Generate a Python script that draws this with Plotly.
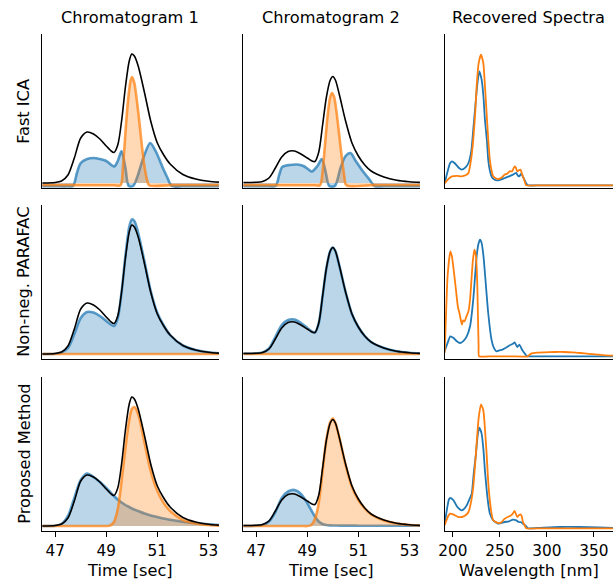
import plotly.graph_objects as go

# ---------------- data ----------------
t_grid = [46.5, 47.0, 47.25, 47.5, 47.75, 48.0, 48.25, 48.5, 48.75, 49.0, 49.15, 49.3, 49.45, 49.6,
          49.75, 49.9, 50.0, 50.1, 50.25, 50.5, 50.75, 51.0, 51.25, 51.5, 52.0, 52.5, 53.0, 53.43]

chrom1_true = [0.0, 0.005, 0.02, 0.08, 0.25, 0.45, 0.51, 0.49, 0.44, 0.37, 0.33, 0.305, 0.38, 0.62,
               0.96, 1.22, 1.29, 1.27, 1.17, 0.90, 0.61, 0.40, 0.28, 0.19, 0.085, 0.04, 0.017, 0.008]
chrom2_true = [0.005, 0.007, 0.015, 0.05, 0.15, 0.26, 0.315, 0.32, 0.29, 0.25, 0.225, 0.215, 0.31, 0.58,
               0.86, 1.03, 1.065, 1.03, 0.89, 0.62, 0.40, 0.27, 0.18, 0.12, 0.06, 0.027, 0.012, 0.006]

# Fast ICA components
t_ica1_blue = [46.5, 47.0, 47.5, 47.7, 47.85, 48.0, 48.25, 48.5, 48.75, 49.0, 49.2, 49.32, 49.45, 49.6,
               49.75, 49.88, 50.05, 50.2, 50.45, 50.72, 50.95, 51.2, 51.4, 51.56, 52.0, 52.5, 53.0, 53.43]
ica1_blue = [-0.033, -0.033, -0.033, -0.03, 0.1, 0.2, 0.24, 0.25, 0.24, 0.22, 0.18, 0.165, 0.22, 0.32,
             0.15, -0.03, -0.03, 0.05, 0.25, 0.4, 0.31, 0.16, 0.05, -0.03, -0.033, -0.033, -0.033, -0.033]
t_ica1_orange = [46.5, 47.5, 48.5, 49.3, 49.56, 49.65, 49.75, 49.85, 49.95, 50.01, 50.1, 50.2, 50.3,
                 50.4, 50.5, 50.6, 50.68, 51.5, 52.5, 53.43]
ica1_orange = [-0.023, -0.023, -0.023, -0.023, -0.023, 0.15, 0.5, 0.82, 1.02, 1.06, 1.0, 0.82, 0.6,
               0.36, 0.16, 0.03, -0.023, -0.023, -0.023, -0.023]

t_ica2_blue = [46.5, 47.0, 47.5, 47.76, 47.9, 48.02, 48.3, 48.6, 48.85, 49.05, 49.18, 49.4, 49.57, 49.72,
               49.86, 50.08, 50.3, 50.5, 50.69, 50.9, 51.2, 51.45, 51.63, 52.0, 52.5, 53.0, 53.43]
ica2_blue = [-0.033, -0.033, -0.033, -0.03, 0.08, 0.16, 0.18, 0.185, 0.17, 0.135, 0.115, 0.17, 0.24, 0.11,
             -0.03, -0.03, 0.15, 0.27, 0.3, 0.22, 0.11, 0.03, -0.03, -0.033, -0.033, -0.033, -0.033]
t_ica2_orange = [46.5, 47.5, 48.5, 49.3, 49.5, 49.6, 49.7, 49.8, 49.9, 49.97, 50.05, 50.15, 50.25,
                 50.35, 50.45, 50.53, 51.5, 52.5, 53.43]
ica2_orange = [-0.023, -0.023, -0.023, -0.023, -0.023, 0.12, 0.4, 0.68, 0.86, 0.9, 0.86, 0.7, 0.48,
               0.26, 0.07, -0.023, -0.023, -0.023, -0.023]

# Non-neg. PARAFAC components
parafac1_blue = [0.0, 0.003, 0.015, 0.06, 0.20, 0.36, 0.42, 0.415, 0.38, 0.33, 0.30, 0.28, 0.36, 0.62,
                 0.98, 1.27, 1.345, 1.33, 1.21, 0.92, 0.62, 0.41, 0.285, 0.19, 0.085, 0.04, 0.016, 0.008]
parafac2_blue = [0.005, 0.007, 0.015, 0.055, 0.17, 0.29, 0.34, 0.345, 0.31, 0.26, 0.23, 0.215, 0.31, 0.58,
                 0.86, 1.03, 1.065, 1.03, 0.89, 0.62, 0.40, 0.27, 0.18, 0.12, 0.06, 0.027, 0.012, 0.006]
t_flat = [46.5, 48.0, 49.5, 51.0, 52.5, 53.43]
parafac1_orange = [0.0, 0.0, 0.0, 0.0, 0.0, 0.0]
parafac2_orange = [0.0, 0.0, 0.0, 0.0, 0.0, 0.0]

# Proposed method components
prop1_blue = [0.0, 0.003, 0.02, 0.10, 0.28, 0.46, 0.525, 0.49, 0.44, 0.38, 0.34, 0.30, 0.265, 0.235,
              0.21, 0.19, 0.175, 0.165, 0.15, 0.125, 0.105, 0.09, 0.075, 0.062, 0.042, 0.028, 0.017, 0.01]
prop1_orange = [0.0, 0.0, 0.0, 0.0, 0.0, 0.0, 0.0, 0.0, 0.0, 0.0, 0.005, 0.04, 0.17, 0.45,
                0.78, 1.06, 1.17, 1.19, 1.12, 0.83, 0.54, 0.35, 0.23, 0.15, 0.06, 0.025, 0.01, 0.004]
prop2_blue = [0.0, 0.003, 0.01, 0.045, 0.14, 0.28, 0.345, 0.36, 0.32, 0.23, 0.16, 0.095, 0.045, 0.02,
              0.01, 0.006, 0.005, 0.005, 0.004, 0.004, 0.004, 0.003, 0.003, 0.003, 0.003, 0.003, 0.003, 0.003]
prop2_orange = [0.0, 0.0, 0.0, 0.0, 0.0, 0.0, 0.0, 0.0, 0.0, 0.0, 0.01, 0.07, 0.23, 0.55,
                0.87, 1.04, 1.075, 1.03, 0.89, 0.61, 0.39, 0.26, 0.175, 0.115, 0.055, 0.025, 0.01, 0.005]

# Recovered spectra (wavelength in nm)
nm_ica_blue = [191.3, 193.9, 197.0, 199.0, 202.1, 206.3, 209.4, 213.5, 216.6, 219.7, 221.7, 223.8, 225.9,
               228.1, 230.6, 232.6, 234.1, 236.2, 237.6, 239.3, 241.3, 244.4, 248.1, 251.7, 255.2, 259.9,
               263.9, 266.1, 267.4, 269.2, 270.7, 272.7, 274.3, 275.9, 278.0, 279.7, 292.9, 323.9, 370.3]
spec_ica_blue = [0.02, 0.12, 0.22, 0.24, 0.22, 0.175, 0.157, 0.18, 0.223, 0.35, 0.557, 0.78, 1.0, 1.14,
                 1.057, 0.88, 0.657, 0.45, 0.257, 0.15, 0.085, 0.055, 0.05, 0.06, 0.073, 0.09, 0.107,
                 0.12, 0.125, 0.095, 0.09, 0.117, 0.09, 0.06, 0.02, 0.0, 0.0, 0.0, 0.0]
nm_ica_orange = [191.3, 194.9, 199.0, 204.2, 209.4, 213.5, 216.6, 219.7, 221.7, 223.8, 225.3, 227.4, 229.9,
                 232.4, 234.1, 235.9, 237.7, 239.3, 241.3, 242.9, 245.5, 248.1, 251.7, 255.2, 257.8, 260.4,
                 263.0, 265.7, 267.1, 268.5, 270.2, 272.0, 273.3, 274.5, 276.4, 278.0, 292.9, 370.3]
spec_ica_orange = [0.02, 0.06, 0.09, 0.095, 0.09, 0.1, 0.123, 0.28, 0.457, 0.72, 0.99, 1.22, 1.307,
                   1.223, 1.0, 0.723, 0.45, 0.257, 0.14, 0.09, 0.07, 0.063, 0.075, 0.107, 0.115, 0.14,
                   0.14, 0.19, 0.175, 0.14, 0.15, 0.157, 0.12, 0.09, 0.04, 0.0, 0.0, 0.0]

nm_par_blue = [191.3, 193.9, 197.3, 200.8, 204.2, 207.8, 211.4, 214.8, 218.3, 221.7, 225.3, 227.4, 228.9,
               230.6, 232.6, 234.1, 237.6, 241.1, 243.4, 246.4, 249.6, 252.7, 258.7, 260.4, 264.0, 265.7,
               268.5, 270.7, 273.2, 275.4, 278.0, 279.7, 292.9, 370.3]
spec_par_blue = [0.05, 0.12, 0.2, 0.183, 0.15, 0.133, 0.155, 0.2, 0.3, 0.567, 1.0, 1.13, 1.167, 1.133,
                 1.0, 0.833, 0.433, 0.167, 0.09, 0.05, 0.06, 0.067, 0.1, 0.11, 0.125, 0.14, 0.093, 0.117,
                 0.073, 0.04, 0.01, 0.0, 0.0, 0.0]
nm_par_orange = [191.3, 192.3, 194.4, 197.3, 199.0, 202.5, 205.3, 207.3, 209.6, 210.9, 212.5, 214.5, 216.6,
                 218.3, 219.7, 221.2, 222.9, 224.6, 225.9, 226.7, 227.4, 227.9, 241.3, 262.0, 279.5, 283.2,
                 289.8, 297.2, 308.4, 318.3, 327.0, 335.8, 344.5, 353.4, 362.0, 370.3]
spec_par_orange = [0.033, 0.3, 0.8, 1.05, 1.0, 0.733, 0.5, 0.42, 0.317, 0.36, 0.35, 0.4, 0.45, 0.567,
                   0.75, 0.95, 1.067, 1.0, 0.75, 0.4, 0.1, 0.0, 0.0, 0.0, 0.0, 0.027, 0.037, 0.04,
                   0.043, 0.043, 0.04, 0.033, 0.025, 0.017, 0.01, 0.007]

nm_prop_blue = [191.3, 193.9, 195.9, 197.3, 200.8, 204.2, 207.3, 209.6, 212.5, 214.8, 217.6, 220.1, 222.2,
                224.6, 226.4, 228.1, 230.6, 232.6, 234.1, 237.6, 239.3, 242.9, 248.1, 251.7, 255.2, 259.9,
                263.9, 267.4, 270.2, 272.7, 274.3, 278.0, 279.7, 292.9, 313.5, 334.2, 354.8, 370.3]
spec_prop_blue = [0.047, 0.2, 0.29, 0.303, 0.28, 0.22, 0.19, 0.18, 0.2, 0.23, 0.29, 0.347, 0.55, 0.747,
                  0.93, 1.007, 0.947, 0.78, 0.58, 0.247, 0.15, 0.08, 0.047, 0.055, 0.063, 0.07, 0.087,
                  0.08, 0.063, 0.06, 0.047, 0.02, 0.0, 0.005, 0.013, 0.013, 0.008, 0.005]
nm_prop_orange = [191.3, 194.9, 197.0, 200.1, 205.2, 209.6, 213.5, 216.6, 219.7, 221.7, 223.8, 225.3, 227.4,
                  229.9, 232.4, 234.1, 235.9, 237.7, 239.3, 241.3, 242.9, 248.1, 251.7, 255.2, 259.9, 262.2,
                  264.0, 265.7, 268.5, 270.2, 272.0, 273.3, 274.5, 276.4, 278.0, 292.9, 370.3]
spec_prop_orange = [0.03, 0.12, 0.147, 0.14, 0.115, 0.113, 0.13, 0.163, 0.28, 0.413, 0.65, 0.847, 1.1,
                    1.24, 1.18, 1.0, 0.747, 0.45, 0.28, 0.14, 0.08, 0.053, 0.06, 0.097, 0.12, 0.13, 0.15,
                    0.173, 0.113, 0.13, 0.14, 0.12, 0.063, 0.03, 0.0, 0.0, 0.0]

col_titles = ["Chromatogram 1", "Chromatogram 2", "Recovered Spectra"]
row_titles = ["Fast ICA", "Non-neg. PARAFAC", "Proposed Method"]
x_titles = ["Time [sec]", "Time [sec]", "Wavelength [nm]"]
time_ticks = [47, 49, 51, 53]
wl_ticks = [200, 250, 300, 350]

# ---------------- styling ----------------
W, H = 613, 581
FONT = "DejaVu Sans"
FS = 16.2
TFS = 15.3
BLUE = (31, 119, 180)
ORANGE = (255, 127, 14)
col_px = [(36, 215), (239, 418), (443, 613)]
row_px = [(34, 188), (205, 359), (377, 531)]


def rgba(c, a):
    return f"rgba({c[0]},{c[1]},{c[2]},{a})"


fig = go.Figure()


def ax_names(r, c):
    k = r * 3 + c + 1
    s = "" if k == 1 else str(k)
    return "x" + s, "y" + s, "xaxis" + s, "yaxis" + s


def add_comp(x, y, color, r, c):
    xa, ya, _, _ = ax_names(r, c)
    fig.add_trace(go.Scatter(x=x, y=y, mode="lines", xaxis=xa, yaxis=ya,
                             line=dict(color=rgba(color, 0.72), width=2.6, shape="spline", smoothing=0.8),
                             fill="tozeroy", fillcolor=rgba(color, 0.3), showlegend=False,
                             hoverinfo="skip"))


def add_true(x, y, r, c):
    xa, ya, _, _ = ax_names(r, c)
    fig.add_trace(go.Scatter(x=x, y=y, mode="lines", xaxis=xa, yaxis=ya,
                             line=dict(color="black", width=1.6, shape="spline", smoothing=0.8),
                             showlegend=False, hoverinfo="skip"))


def add_spec(x, y, color, r):
    xa, ya, _, _ = ax_names(r, 2)
    fig.add_trace(go.Scatter(x=x, y=y, mode="lines", xaxis=xa, yaxis=ya,
                             line=dict(color=rgba(color, 1), width=1.8, shape="spline", smoothing=0.5),
                             showlegend=False, hoverinfo="skip"))


# Row 0: Fast ICA
add_comp(t_ica1_blue, ica1_blue, BLUE, 0, 0)
add_comp(t_ica1_orange, ica1_orange, ORANGE, 0, 0)
add_true(t_grid, chrom1_true, 0, 0)
add_comp(t_ica2_blue, ica2_blue, BLUE, 0, 1)
add_comp(t_ica2_orange, ica2_orange, ORANGE, 0, 1)
add_true(t_grid, chrom2_true, 0, 1)
add_spec(nm_ica_blue, spec_ica_blue, BLUE, 0)
add_spec(nm_ica_orange, spec_ica_orange, ORANGE, 0)

# Row 1: PARAFAC
add_comp(t_grid, parafac1_blue, BLUE, 1, 0)
add_comp(t_flat, parafac1_orange, ORANGE, 1, 0)
add_true(t_grid, chrom1_true, 1, 0)
add_comp(t_grid, parafac2_blue, BLUE, 1, 1)
add_comp(t_flat, parafac2_orange, ORANGE, 1, 1)
add_true(t_grid, chrom2_true, 1, 1)
add_spec(nm_par_blue, spec_par_blue, BLUE, 1)
add_spec(nm_par_orange, spec_par_orange, ORANGE, 1)

# Row 2: Proposed
add_comp(t_grid, prop1_blue, BLUE, 2, 0)
add_comp(t_grid, prop1_orange, ORANGE, 2, 0)
add_true(t_grid, chrom1_true, 2, 0)
add_comp(t_grid, prop2_blue, BLUE, 2, 1)
add_comp(t_grid, prop2_orange, ORANGE, 2, 1)
add_true(t_grid, chrom2_true, 2, 1)
add_spec(nm_prop_blue, spec_prop_blue, BLUE, 2)
add_spec(nm_prop_orange, spec_prop_orange, ORANGE, 2)

layout = dict(width=W, height=H, margin=dict(l=0, r=0, t=0, b=0, pad=0),
              plot_bgcolor="white", paper_bgcolor="white",
              font=dict(family=FONT, size=FS, color="black"))

for r in range(3):
    for c in range(3):
        xa, ya, xk, yk = ax_names(r, c)
        x0, x1 = col_px[c]
        y0, y1 = row_px[r]
        bottom = (r == 2)
        if c < 2:
            xr, yr, tv = [46.47, 53.41], [-0.05, 1.49], time_ticks
        else:
            xr, yr, tv = [191.3, 370.3], [-0.027, 1.513], wl_ticks
        layout[xk] = dict(domain=[x0 / W, x1 / W], range=xr, anchor=ya, showgrid=False, zeroline=False,
                          showline=True, linecolor="black", linewidth=1.3,
                          ticks="outside" if bottom else "", ticklen=5, tickwidth=1.3, tickcolor="black",
                          showticklabels=bottom, tickvals=tv, ticktext=[str(v) for v in tv],
                          tickfont=dict(family=FONT, size=TFS, color="black"), fixedrange=True)
        layout[yk] = dict(domain=[1 - y1 / H, 1 - y0 / H], range=yr, anchor=xa, showgrid=False,
                          zeroline=False, showline=True, linecolor="black", linewidth=1.3,
                          ticks="", showticklabels=False, fixedrange=True)

annotations = []
for c in range(3):
    x0, x1 = col_px[c]
    cx = (x0 + x1) / 2
    if c == 2:
        cx = 528
    annotations.append(dict(text=col_titles[c], x=cx / W, y=1 - 18 / H, xref="paper", yref="paper",
                            xanchor="center", yanchor="middle", showarrow=False,
                            font=dict(family=FONT, size=FS, color="black")))
    annotations.append(dict(text=x_titles[c], x=cx / W, y=1 - 570 / H, xref="paper", yref="paper",
                            xanchor="center", yanchor="middle", showarrow=False,
                            font=dict(family=FONT, size=FS, color="black")))
for r in range(3):
    y0, y1 = row_px[r]
    annotations.append(dict(text=row_titles[r], x=18 / W, y=1 - ((y0 + y1) / 2) / H, xref="paper",
                            yref="paper", xanchor="center", yanchor="middle", textangle=-90,
                            showarrow=False, font=dict(family=FONT, size=FS, color="black")))
layout["annotations"] = annotations

fig.update_layout(**layout)
fig.write_html("out.html")
